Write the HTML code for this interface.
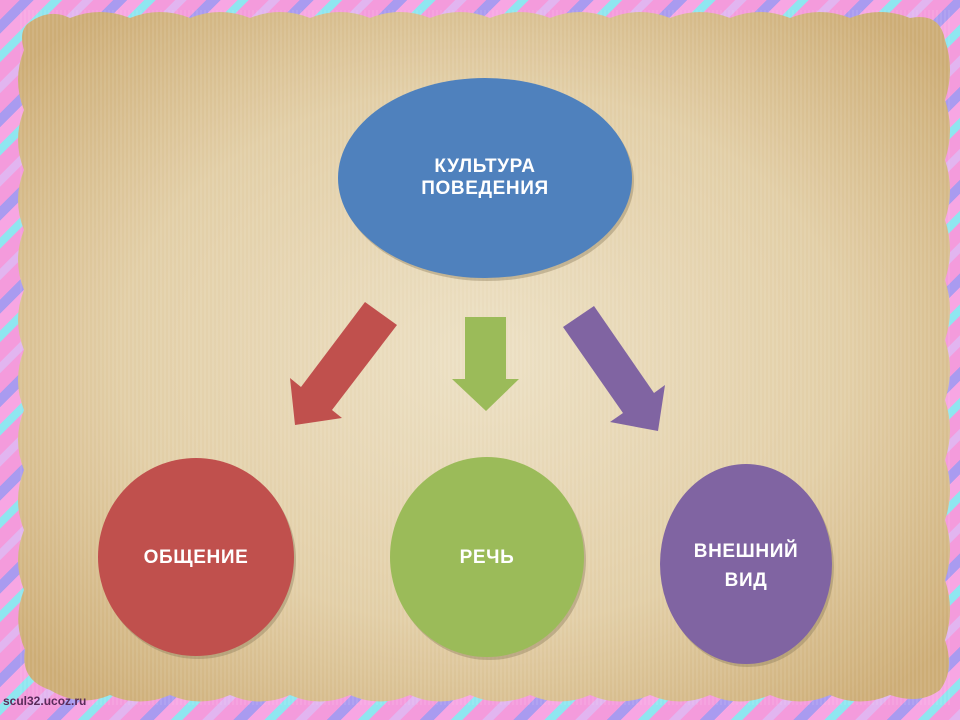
<!DOCTYPE html>
<html><head><meta charset="utf-8"><style>
html,body{margin:0;padding:0;width:960px;height:720px;overflow:hidden}
body{background:repeating-linear-gradient(135deg,#f49bdc 0 14px,#a99bf0 14px 24px,#f7a6e3 24px 36px,#8fe6f0 36px 44px,#f49bdc 44px 58px,#e2b5f0 58px 66px);}
svg{position:absolute;left:0;top:0}
</style></head><body>
<svg width="960" height="720" viewBox="0 0 960 720">
<defs>
<radialGradient id="p" cx="50%" cy="50%" r="65%">
<stop offset="0" stop-color="#ece0c4"/><stop offset="0.6" stop-color="#e2cea6"/><stop offset="1" stop-color="#cdad76"/>
</radialGradient>
<pattern id="v" width="4" height="10" patternUnits="userSpaceOnUse"><rect width="2" height="10" fill="#fff" opacity="0.08"/></pattern>
</defs>
<path d="M30,22 Q50,8 70,18 Q100,6 130,18 Q160,6 190,18 Q220,6 250,18 Q280,6 310,18 Q340,6 370,18 Q400,6 430,18 Q460,6 490,18 Q520,6 550,18 Q580,6 610,18 Q640,6 670,18 Q700,6 730,18 Q760,6 790,18 Q820,6 850,18 Q880,6 910,18 Q940,12 945,40 Q955,70 945,100 Q955,130 945,160 Q955,190 945,220 Q955,250 945,280 Q955,310 945,340 Q955,370 945,400 Q955,430 945,460 Q955,490 945,520 Q955,550 945,580 Q955,610 945,640 Q955,670 940,690 Q920,705 890,695 Q860,708 830,695 Q800,708 770,695 Q740,708 710,695 Q680,708 650,695 Q620,708 590,695 Q560,708 530,695 Q500,708 470,695 Q440,708 410,695 Q380,708 350,695 Q320,708 290,695 Q260,708 230,695 Q200,708 170,695 Q140,708 110,695 Q80,708 50,690 Q20,680 25,650 Q12,620 24,590 Q12,560 24,530 Q12,500 24,470 Q12,440 24,410 Q12,380 24,350 Q12,320 24,290 Q12,260 24,230 Q12,200 24,170 Q12,140 24,110 Q12,80 24,50 Q18,30 30,22Z" fill="url(#p)"/>
<rect x="20" y="10" width="930" height="695" fill="url(#v)"/>
<ellipse cx="487" cy="181" rx="147" ry="100" fill="#8a7a5a" opacity="0.4"/>
<ellipse cx="485" cy="178" rx="147" ry="100" fill="#4f81bd"/>
<ellipse cx="198" cy="560" rx="98" ry="99" fill="#8a7a5a" opacity="0.4"/>
<ellipse cx="196" cy="557" rx="98" ry="99" fill="#c0504d"/>
<ellipse cx="489" cy="560" rx="97" ry="100" fill="#8a7a5a" opacity="0.4"/>
<ellipse cx="487" cy="557" rx="97" ry="100" fill="#9bbb59"/>
<ellipse cx="748" cy="567" rx="86" ry="100" fill="#8a7a5a" opacity="0.4"/>
<ellipse cx="746" cy="564" rx="86" ry="100" fill="#8064a2"/>
<polygon points="365,302 397,325 332,410 342,418 295,425 290,378 301,387" fill="#c0504d"/>
<polygon points="465,317 506,317 506,379 519,379 486,411 452,379 465,379" fill="#9bbb59"/>
<polygon points="563,327 594,306 654,393 665,385 658,431 610,422 623,413" fill="#8064a2"/>
<g font-family="Liberation Sans, sans-serif" font-weight="bold" fill="#fff" font-size="19" text-anchor="middle" letter-spacing="0.6">
<text x="485" y="172">КУЛЬТУРА</text>
<text x="485" y="194">ПОВЕДЕНИЯ</text>
<text x="196" y="563">ОБЩЕНИЕ</text>
<text x="487" y="563">РЕЧЬ</text>
<text x="746" y="557">ВНЕШНИЙ</text>
<text x="746" y="586">ВИД</text>
</g>
<text x="3" y="705" font-family="Liberation Sans, sans-serif" font-weight="bold" font-size="12" fill="#5a2a5a">scul32.ucoz.ru</text>
</svg>
</body></html>
